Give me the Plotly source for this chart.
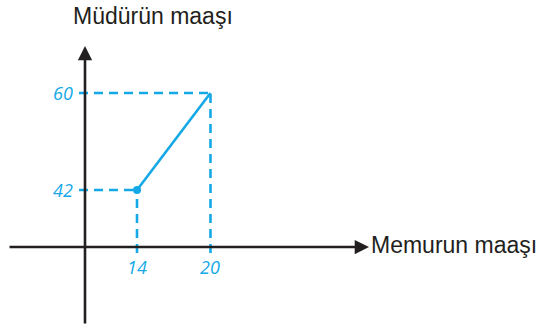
import plotly.graph_objects as go

# Salary relation: officer salary (x) vs. director salary (y)
memur_maasi = [14, 20]
mudur_maasi = [42, 60]
x_title = "Memurun maaşı"
y_title = "Müdürün maaşı"

BLUE = "#14A9E6"
BLACK = "#231F20"

# Where the (broken) axes cross, in data units, and their visible extents
CROSS_X = 9.755
CROSS_Y = 31.42
X_AXIS_START, X_AXIS_END = 3.47, 32.94
Y_AXIS_START, Y_AXIS_END = 16.95, 68.72
TICK_X = 9.265   # guide lines run a little past the y-axis
TICK_Y = 30.31   # and a little past the x-axis

fig = go.Figure()

# Dashed guides from each point back to both axes
for xv, yv in zip(memur_maasi, mudur_maasi):
    fig.add_trace(go.Scatter(
        x=[TICK_X, xv], y=[yv, yv], mode="lines",
        line=dict(color=BLUE, width=2.6, dash="9px,6px"),
        hoverinfo="skip", showlegend=False))
    fig.add_trace(go.Scatter(
        x=[xv, xv], y=[TICK_Y, yv], mode="lines",
        line=dict(color=BLUE, width=2.6, dash="9px,6px"),
        hoverinfo="skip", showlegend=False))

# The salary segment with its starting point marked
fig.add_trace(go.Scatter(
    x=memur_maasi, y=mudur_maasi, mode="lines",
    line=dict(color=BLUE, width=2.6),
    hoverinfo="skip", showlegend=False))
fig.add_trace(go.Scatter(
    x=memur_maasi[:1], y=mudur_maasi[:1], mode="markers",
    marker=dict(color=BLUE, size=8),
    hoverinfo="skip", showlegend=False))

annotations = []
# Axis arrows
annotations.append(dict(
    x=X_AXIS_END, y=CROSS_Y, ax=X_AXIS_START, ay=CROSS_Y,
    xref="x", yref="y", axref="x", ayref="y", text="",
    showarrow=True, arrowhead=2, arrowsize=1.1, arrowwidth=2.6,
    arrowcolor=BLACK, standoff=0))
annotations.append(dict(
    x=CROSS_X, y=Y_AXIS_END, ax=CROSS_X, ay=Y_AXIS_START,
    xref="x", yref="y", axref="x", ayref="y", text="",
    showarrow=True, arrowhead=2, arrowsize=1.1, arrowwidth=2.6,
    arrowcolor=BLACK, standoff=0))

# Axis titles
title_font = dict(family="Liberation Sans, Arial", size=23, color=BLACK)
annotations.append(dict(
    x=X_AXIS_END, y=CROSS_Y, xref="x", yref="y", text=x_title,
    showarrow=False, xanchor="left", yanchor="middle", xshift=0, yshift=2,
    font=title_font))
annotations.append(dict(
    x=CROSS_X, y=Y_AXIS_END, xref="x", yref="y", text=y_title,
    showarrow=False, xanchor="left", yanchor="middle", xshift=-14, yshift=30,
    font=title_font))

# Value labels on the axes
tick_font = dict(family="Open Sans", size=18, color=BLUE)
for xv in memur_maasi:
    annotations.append(dict(
        x=xv, y=CROSS_Y, xref="x", yref="y", text=f"<i>{xv}</i>",
        showarrow=False, xanchor="center", yanchor="middle", yshift=-20,
        font=tick_font))
for yv in mudur_maasi:
    annotations.append(dict(
        x=CROSS_X, y=yv, xref="x", yref="y", text=f"<i>{yv}</i>",
        showarrow=False, xanchor="right", yanchor="middle", xshift=-10,
        font=tick_font))

fig.update_layout(
    width=540, height=330,
    margin=dict(l=0, r=0, t=0, b=0),
    paper_bgcolor="white", plot_bgcolor="white",
    xaxis=dict(range=[2.816, 46.9], visible=False, fixedrange=True),
    yaxis=dict(range=[16.03, 77.25], visible=False, fixedrange=True),
    annotations=annotations,
    showlegend=False,
)

fig.write_html("out.html")
